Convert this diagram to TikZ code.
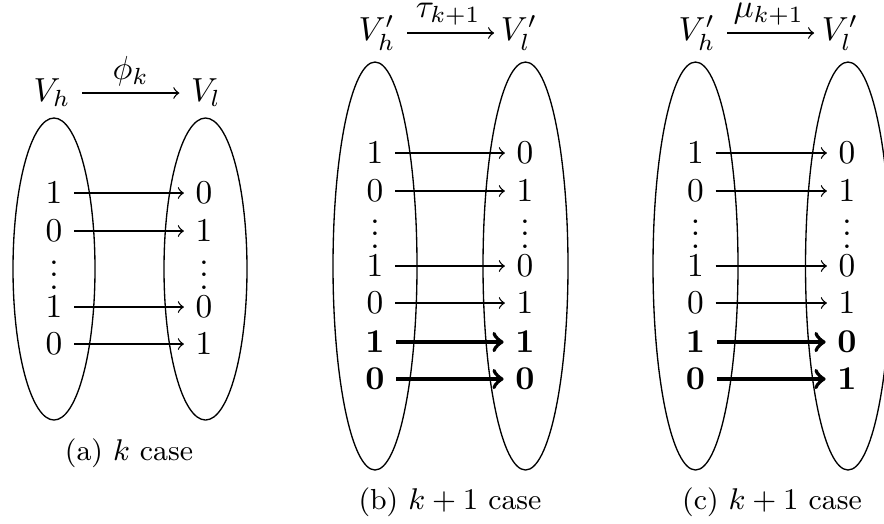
\documentclass[tikz,border=0pt]{standalone}
\newcommand\myvdots{\vbox{\baselineskip3.7pt \lineskiplimit0pt \hbox{.}\hbox{.}\hbox{.}}}
\begin{document}
\begin{tikzpicture}[x=0.3pt,y=-0.3pt,
  setell/.style={draw, line width=0.4pt},
  map/.style={->},
  bmap/.style={->, line width=1.2pt},
  hdr/.style={->},
  lab/.style={above=2pt, inner sep=0pt},
  dts/.style={anchor=base, inner sep=0pt},
  captext/.style={font=\fontsize{8.7}{10}\selectfont}]
\useasboundingbox (0,0) rectangle (884,523);
\begin{scope}
\clip (0,0) rectangle (884,523);
% panel (a)
\draw[setell] (54,269) ellipse [x radius=12.3pt, y radius=45.3pt];
\draw[setell] (205.5,269) ellipse [x radius=12.45pt, y radius=45.3pt];
% panel (b)
\draw[setell] (375,266) ellipse [x radius=12.6pt, y radius=61.2pt];
\draw[setell] (525.5,266) ellipse [x radius=12.75pt, y radius=61.2pt];
% panel (c)
\draw[setell] (695.5,266) ellipse [x radius=12.75pt, y radius=61.2pt];
\draw[setell] (848,266) ellipse [x radius=12.75pt, y radius=61.2pt];
\end{scope}

% ---------- panel (a)
\node (aVh) at (52,93) {$V_h$};
\node (aVl) at (206,93) {$V_l$};
\draw[hdr] (aVh) -- node[lab] (aphi) {$\phi_k$} (aVl);
\node (al1) at (54,193) {$1$};  \node (ar1) at (204,193) {$0$};
\node (al2) at (54,231) {$0$};  \node (ar2) at (204,231) {$1$};
\node[dts] (ald) at (54,289) {\myvdots}; \node[dts] (ard) at (204,289) {\myvdots};
\node (al3) at (54,307) {$1$};  \node (ar3) at (204,307) {$0$};
\node (al4) at (54,344) {$0$};  \node (ar4) at (204,344) {$1$};
\foreach \i in {1,...,4} \draw[map] (al\i) -- (ar\i);
\node[captext] (capa) at (129,453) {(a) $k$ case};

% ---------- panel (b)
\node (bVh) at (377,33) {$V'_h$};
\node (bVl) at (519,33) {$V'_l$};
\draw[hdr, shorten >=-1.5pt] (bVh) -- node[lab] (btau) {$\tau_{k+1}$} (bVl);
\node (bl1) at (375,153) {$1$};  \node (br1) at (525,153) {$0$};
\node (bl2) at (375,191) {$0$};  \node (br2) at (525,191) {$1$};
\node[dts] (bld) at (375,248) {\myvdots}; \node[dts] (brd) at (525,248) {\myvdots};
\node (bl3) at (375,266) {$1$};  \node (br3) at (525,266) {$0$};
\node (bl4) at (375,303) {$0$};  \node (br4) at (525,303) {$1$};
\node (bl5) at (375,342) {$\mathbf{1}$};  \node (br5) at (525,342) {$\mathbf{1}$};
\node (bl6) at (375,379) {$\mathbf{0}$};  \node (br6) at (525,379) {$\mathbf{0}$};
\foreach \i in {1,...,4} \draw[map] (bl\i) -- (br\i);
\foreach \i in {5,6} \draw[bmap] (bl\i) -- (br\i);
\node[captext] (capb) at (450,502) {(b) $k+1$ case};

% ---------- panel (c)
\node (cVh) at (697,33) {$V'_h$};
\node (cVl) at (840,33) {$V'_l$};
\draw[hdr, shorten >=-1.2pt] (cVh) -- node[lab] (cmu) {$\mu_{k+1}$} (cVl);
\node (cl1) at (695.5,153) {$1$};  \node (cr1) at (847,153) {$0$};
\node (cl2) at (695.5,191) {$0$};  \node (cr2) at (847,191) {$1$};
\node[dts] (cld) at (695.5,248) {\myvdots}; \node[dts] (crd) at (847,248) {\myvdots};
\node (cl3) at (695.5,266) {$1$};  \node (cr3) at (847,266) {$0$};
\node (cl4) at (695.5,303) {$0$};  \node (cr4) at (847,303) {$1$};
\node (cl5) at (695.5,342) {$\mathbf{1}$};  \node (cr5) at (847,342) {$\mathbf{0}$};
\node (cl6) at (695.5,379) {$\mathbf{0}$};  \node (cr6) at (847,379) {$\mathbf{1}$};
\foreach \i in {1,...,4} \draw[map] (cl\i) -- (cr\i);
\foreach \i in {5,6} \draw[bmap] (cl\i) -- (cr\i);
\node[captext] (capc) at (772,502) {(c) $k+1$ case};
\end{tikzpicture}
\end{document}
